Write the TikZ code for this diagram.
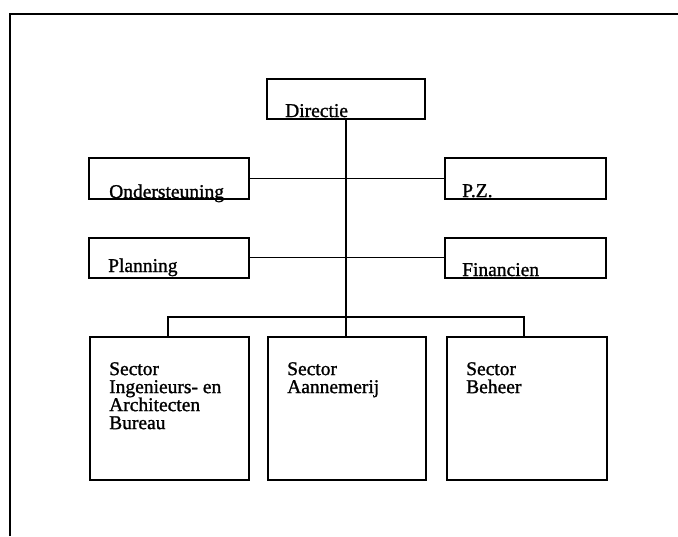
\documentclass[tikz,border=0pt]{standalone}
\usepackage{fontspec}
\setmainfont[FakeBold=1.2,AutoFakeBold=1.2]{Liberation Serif}
\begin{document}
\begin{tikzpicture}[x=1pt,y=-1pt,
  box/.style={draw, line width=1.5pt, inner sep=0pt, anchor=north west},
  lbl/.style={anchor=base west, inner sep=0pt, font=\fontsize{19.5}{18}\selectfont\bfseries},
  blk/.style={anchor=north west, inner sep=0pt, align=left, font=\fontsize{19.5}{18}\selectfont\bfseries},
  link/.style={line width=1.2pt}]
\useasboundingbox (0,0) rectangle (678,536);
% page frame
\draw[line width=2.4pt] (10,536) -- (10,14) -- (678,14);

% boxes
\node[box, minimum width=158pt, minimum height=40pt] (dir) at (266,78) {};
\node[box, minimum width=160pt, minimum height=41pt] (ond) at (88,157) {};
\node[box, minimum width=161pt, minimum height=41pt] (pz)  at (444,157) {};
\node[box, minimum width=160pt, minimum height=40pt] (pla) at (88,237) {};
\node[box, minimum width=161pt, minimum height=40pt] (fin) at (444,237) {};
\node[box, minimum width=159pt, minimum height=143pt] (s1) at (89,336) {};
\node[box, minimum width=158pt, minimum height=143pt] (s2) at (267,336) {};
\node[box, minimum width=160pt, minimum height=143pt] (s3) at (446,336) {};

% labels
\node[lbl] (tdir) at (285,117) {Directie};
\node[lbl] (tond) at (109,198) {Ondersteuning};
\node[lbl] (tpz)  at (462,197) {P.Z.};
\node[lbl] (tpla) at (108,272) {Planning};
\node[lbl] (tfin) at (462,276) {Financien};
\node[blk] (ts1) at (109,362) {Sector\\Ingenieurs- en\\Architecten\\Bureau};
\node[blk] (ts2) at (287,362) {Sector\\Aannemerij};
\node[blk] (ts3) at (466,362) {Sector\\Beheer};

% connectors
\coordinate (bus) at (346,317);
\draw[link] (dir.south -| bus) -- (bus);
\draw[link] (ond.east) -- (pz.west);
\draw[link] (pla.east) -- (fin.west);
\draw[link] (s1.north -| 168,0) |- (bus);
\draw[link] (s3.north -| 524,0) |- (bus);
\draw[link] (s2.north -| bus) -- (bus);
\end{tikzpicture}
\end{document}
